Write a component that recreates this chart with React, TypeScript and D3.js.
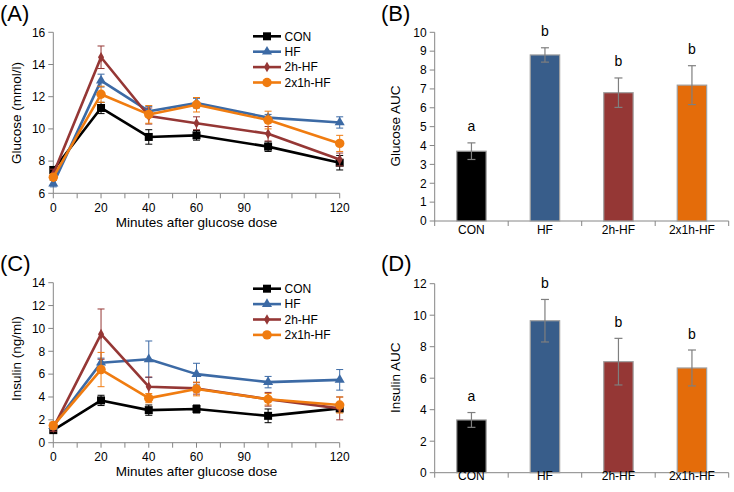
import React, { useEffect, useRef } from 'react';
import * as d3 from 'd3';

// groups + styling
const groups = ['CON', 'HF', '2h-HF', '2x1h-HF'];
const lineColors = ['#000000', '#3c6aa5', '#953735', '#f07c10'];
const barColors = ['#000000', '#385d8a', '#953735', '#e46c0a'];

// time axis (the 90 label sits on the 80 min tick in the original)
const minutes = [0, 20, 40, 60, 90, 120];
const minuteTicks = [0, 10, 20, 30, 40, 50, 60, 70, 80, 90, 100, 110, 120];
const minuteLabelPos = [0, 20, 40, 60, 80, 120];
const minuteLabels = ['0', '20', '40', '60', '90', '120'];

// glucose curves (mmol/l)
const glucoseCON = [7.45, 11.3, 9.5, 9.6, 8.9, 7.9];
const glucoseHF = [6.6, 13.0, 11.1, 11.6, 10.7, 10.4];
const glucose2h = [7.2, 14.45, 10.8, 10.35, 9.7, 8.1];
const glucose2x1h = [7.0, 12.15, 10.9, 11.5, 10.55, 9.1];
const glucoseErrCON = [0.2, 0.35, 0.45, 0.3, 0.3, 0.45];
const glucoseErrHF = [0.2, 0.4, 0.3, 0.3, 0.2, 0.35];
const glucoseErr2h = [0.3, 0.7, 0.5, 0.4, 0.45, 0.4];
const glucoseErr2x1h = [0.2, 0.5, 0.55, 0.45, 0.55, 0.5];

// insulin curves (ng/ml)
const insulinCON = [1.1, 3.7, 2.85, 2.95, 2.35, 3.0];
const insulinHF = [1.45, 7.0, 7.3, 6.0, 5.3, 5.5];
const insulin2h = [1.3, 9.5, 4.9, 4.75, 3.8, 3.0];
const insulin2x1h = [1.5, 6.4, 3.9, 4.7, 3.8, 3.3];
const insulinErrCON = [0.2, 0.45, 0.45, 0.35, 0.6, 0.3];
const insulinErrHF = [0.3, 0.4, 1.6, 0.95, 0.5, 0.9];
const insulinErr2h = [0.3, 2.2, 0.85, 0.5, 0.6, 1.0];
const insulinErr2x1h = [0.3, 1.5, 0.4, 0.6, 0.5, 0.7];

// AUC bars
const glucoseAuc = [3.7, 8.8, 6.8, 7.2];
const glucoseAucErr = [0.44, 0.38, 0.78, 1.03];
const insulinAuc = [3.35, 9.65, 7.05, 6.65];
const insulinAucErr = [0.47, 1.35, 1.48, 1.14];
const sigLetters = ['a', 'b', 'b', 'b'];

const FONT = 'Liberation Sans, Arial, Helvetica, sans-serif';
const AXIS = '#868686';

const symbols = [d3.symbolSquare, d3.symbolTriangle, d3.symbolDiamond, d3.symbolCircle];
const symbolSizes = [64, 44, 32, 70];

function drawLinePanel(svg, cfg) {
    const x = d3.scaleLinear().domain([0, 120]).range([cfg.left, cfg.right]);
    const y = d3.scaleLinear().domain(cfg.yDomain).range([cfg.bottom, cfg.top]);
    const g = svg.append('g');

    // axes
    g.append('line').attr('x1', cfg.left).attr('x2', cfg.left)
        .attr('y1', cfg.top).attr('y2', cfg.bottom).attr('stroke', AXIS);
    g.append('line').attr('x1', cfg.left).attr('x2', cfg.right)
        .attr('y1', cfg.bottom).attr('y2', cfg.bottom).attr('stroke', AXIS);

    const yTicks = d3.range(cfg.yDomain[0], cfg.yDomain[1] + 0.001, cfg.yStep);
    yTicks.forEach(t => {
        g.append('line').attr('x1', cfg.left - 5).attr('x2', cfg.left)
            .attr('y1', y(t)).attr('y2', y(t)).attr('stroke', AXIS);
        g.append('text').attr('x', cfg.left - 8).attr('y', y(t) + 4.3)
            .attr('text-anchor', 'end').attr('font-size', 12).text(t);
    });
    minuteTicks.forEach(t => {
        g.append('line').attr('x1', x(t)).attr('x2', x(t))
            .attr('y1', cfg.bottom).attr('y2', cfg.bottom + 5).attr('stroke', AXIS);
    });
    minuteLabelPos.forEach((t, i) => {
        g.append('text').attr('x', x(t)).attr('y', cfg.bottom + 18.5)
            .attr('text-anchor', 'middle').attr('font-size', 12).text(minuteLabels[i]);
    });

    g.append('text').attr('x', (cfg.left + cfg.right) / 2).attr('y', cfg.bottom + 33.5)
        .attr('text-anchor', 'middle').attr('font-size', 13.5).text('Minutes after glucose dose');
    g.append('text').attr('transform', `translate(21,${cfg.titleY}) rotate(-90)`)
        .attr('text-anchor', 'middle').attr('font-size', 13.5).text(cfg.yTitle);

    // series
    cfg.series.forEach((vals, si) => {
        const col = lineColors[si];
        const errs = cfg.errors[si];
        const line = d3.line().x((d, i) => x(minutes[i])).y(d => y(d));
        g.append('path').datum(vals).attr('d', line)
            .attr('fill', 'none').attr('stroke', col).attr('stroke-width', 2.6)
            .attr('stroke-linejoin', 'round');
        vals.forEach((v, i) => {
            const cx = x(minutes[i]);
            const e = errs[i];
            g.append('line').attr('x1', cx).attr('x2', cx)
                .attr('y1', y(v - e)).attr('y2', y(v + e)).attr('stroke', col).attr('stroke-width', 1);
            [v - e, v + e].forEach(yy => {
                g.append('line').attr('x1', cx - 3.5).attr('x2', cx + 3.5)
                    .attr('y1', y(yy)).attr('y2', y(yy)).attr('stroke', col).attr('stroke-width', 1);
            });
            g.append('path')
                .attr('d', d3.symbol().type(symbols[si]).size(symbolSizes[si])())
                .attr('transform', `translate(${cx},${y(v)})`)
                .attr('fill', col);
        });
    });

    // legend
    groups.forEach((name, i) => {
        const ly = cfg.legendY + i * 15.4;
        g.append('line').attr('x1', 253).attr('x2', 281).attr('y1', ly).attr('y2', ly)
            .attr('stroke', lineColors[i]).attr('stroke-width', 2.6);
        g.append('path')
            .attr('d', d3.symbol().type(symbols[i]).size(symbolSizes[i])())
            .attr('transform', `translate(267,${ly})`)
            .attr('fill', lineColors[i]);
        g.append('text').attr('x', 284.5).attr('y', ly + 4.3)
            .attr('font-size', 12).text(name);
    });

    g.append('text').attr('x', 0).attr('y', cfg.labelY).attr('font-size', 22).text(cfg.label);
}

function drawBarPanel(svg, cfg) {
    const x = d3.scaleBand().domain(groups).range([cfg.left, cfg.right])
        .paddingInner(0.6).paddingOuter(0.3);
    const y = d3.scaleLinear().domain(cfg.yDomain).range([cfg.bottom, cfg.top]);
    const g = svg.append('g');
    const step = x.step();

    g.append('line').attr('x1', cfg.left).attr('x2', cfg.left)
        .attr('y1', cfg.top).attr('y2', cfg.bottom).attr('stroke', AXIS);
    g.append('line').attr('x1', cfg.left).attr('x2', cfg.right)
        .attr('y1', cfg.bottom).attr('y2', cfg.bottom).attr('stroke', AXIS);

    const yTicks = d3.range(cfg.yDomain[0], cfg.yDomain[1] + 0.001, cfg.yStep);
    yTicks.forEach(t => {
        g.append('line').attr('x1', cfg.left - 5).attr('x2', cfg.left)
            .attr('y1', y(t)).attr('y2', y(t)).attr('stroke', AXIS);
        g.append('text').attr('x', cfg.left - 8).attr('y', y(t) + 4.3)
            .attr('text-anchor', 'end').attr('font-size', 12).text(t);
    });
    d3.range(groups.length + 1).forEach(i => {
        const bx = cfg.left + i * step;
        g.append('line').attr('x1', bx).attr('x2', bx)
            .attr('y1', cfg.bottom).attr('y2', cfg.bottom + 5).attr('stroke', AXIS);
    });

    groups.forEach((name, i) => {
        const v = cfg.values[i];
        const e = cfg.errors[i];
        const cx = x(name) + x.bandwidth() / 2;
        g.append('rect').attr('x', x(name)).attr('y', y(v))
            .attr('width', x.bandwidth()).attr('height', cfg.bottom - y(v))
            .attr('fill', barColors[i]).attr('stroke', '#a0a0a0').attr('stroke-width', 1.2);
        g.append('line').attr('x1', cx).attr('x2', cx)
            .attr('y1', y(v - e)).attr('y2', y(v + e)).attr('stroke', '#7f7f7f').attr('stroke-width', 1.2);
        [v - e, v + e].forEach(yy => {
            g.append('line').attr('x1', cx - 4).attr('x2', cx + 4)
                .attr('y1', y(yy)).attr('y2', y(yy)).attr('stroke', '#7f7f7f').attr('stroke-width', 1.2);
        });
        g.append('text').attr('x', cx).attr('y', y(v + e) - 11.5)
            .attr('text-anchor', 'middle').attr('font-size', 14).text(sigLetters[i]);
        g.append('text').attr('x', cx).attr('y', cfg.bottom + cfg.catDy)
            .attr('text-anchor', 'middle').attr('font-size', 12).text(name);
    });

    g.append('text').attr('transform', `translate(${cfg.titleX},${cfg.titleY}) rotate(-90)`)
        .attr('text-anchor', 'middle').attr('font-size', 13.5).text(cfg.yTitle);
    g.append('text').attr('x', 381).attr('y', cfg.labelY).attr('font-size', 22).text(cfg.label);
}

function App() {
    const svgRef = useRef(null);

    useEffect(() => {
        const svg = d3.select(svgRef.current);
        svg.selectAll('*').remove();

        drawLinePanel(svg, {
            left: 53.3, right: 339.7, top: 32.3, bottom: 193.3,
            yDomain: [6, 16], yStep: 2, yTitle: 'Glucose (mmol/l)', titleY: 113,
            series: [glucoseCON, glucoseHF, glucose2h, glucose2x1h],
            errors: [glucoseErrCON, glucoseErrHF, glucoseErr2h, glucoseErr2x1h],
            legendY: 36.3, label: '(A)', labelY: 20.7,
        });
        drawLinePanel(svg, {
            left: 53.3, right: 339.7, top: 282.7, bottom: 442.7,
            yDomain: [0, 14], yStep: 2, yTitle: 'Insulin (ng/ml)', titleY: 358.7,
            series: [insulinCON, insulinHF, insulin2h, insulin2x1h],
            errors: [insulinErrCON, insulinErrHF, insulinErr2h, insulinErr2x1h],
            legendY: 288.7, label: '(C)', labelY: 271,
        });
        drawBarPanel(svg, {
            left: 434.7, right: 728.7, top: 32.3, bottom: 221,
            yDomain: [0, 10], yStep: 1, yTitle: 'Glucose AUC', titleX: 400, titleY: 126,
            values: glucoseAuc, errors: glucoseAucErr, catDy: 13.3,
            label: '(B)', labelY: 20.7,
        });
        drawBarPanel(svg, {
            left: 434.7, right: 728.7, top: 283.7, bottom: 472.7,
            yDomain: [0, 12], yStep: 2, yTitle: 'Insulin AUC', titleX: 400.3, titleY: 377.7,
            values: insulinAuc, errors: insulinAucErr, catDy: 7,
            label: '(D)', labelY: 271,
        });
    }, []);

    return (
        <svg ref={svgRef} width={734} height={492}
            style={{ position: 'absolute', left: 0, top: 0, background: '#fff', fontFamily: FONT }} />
    );
}

export default App;
